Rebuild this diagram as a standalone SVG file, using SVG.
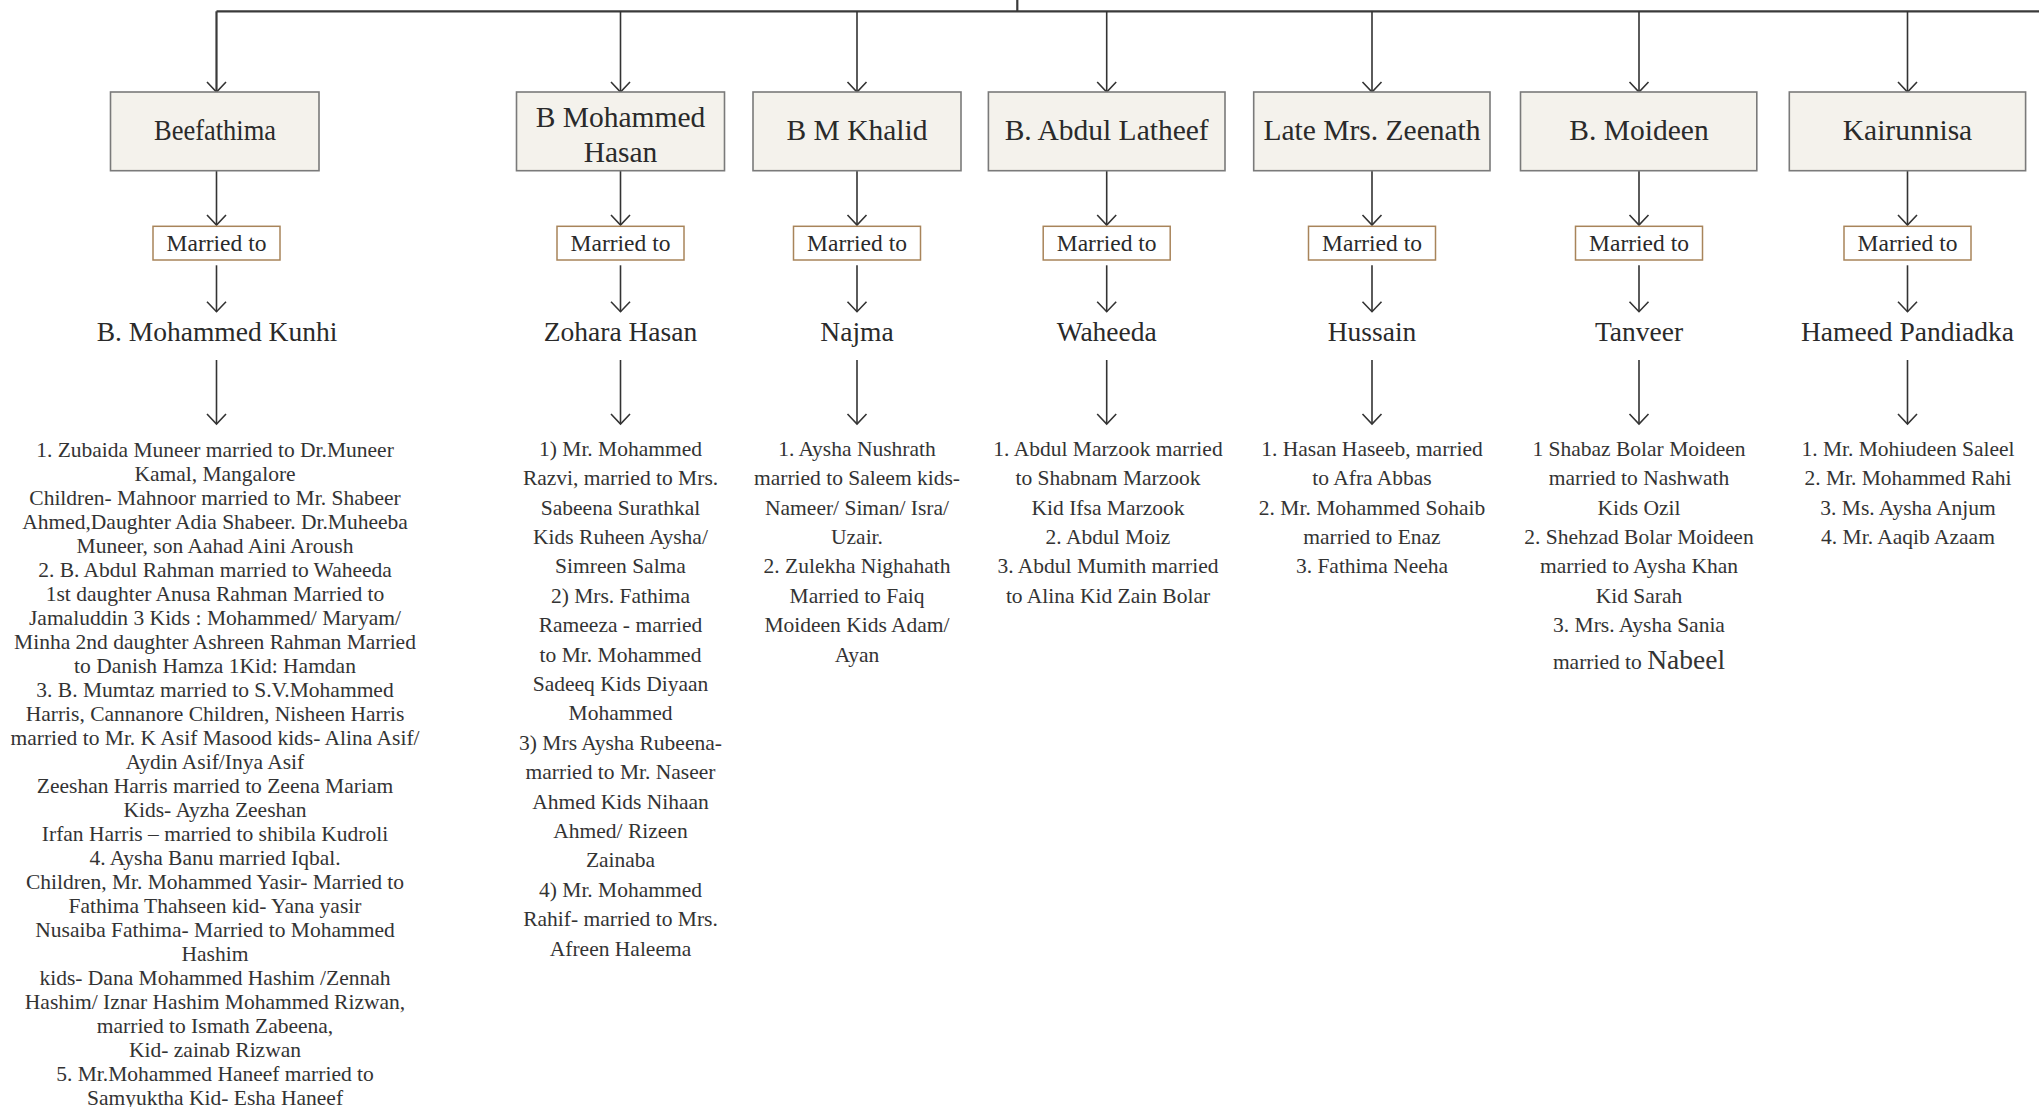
<svg xmlns="http://www.w3.org/2000/svg" width="2039" height="1107" viewBox="0 0 2039 1107">
<defs>
<style>
text{font-family:"Liberation Serif","Times New Roman",serif;fill:#2a2a2a;text-anchor:middle}
.box{fill:#f4f2ec;stroke:#7a7a7a;stroke-width:1.6}
.mbox{fill:#ffffff;stroke:#a8845a;stroke-width:1.5}
.t{font-size:29.5px}
.m{font-size:23.5px}
.n{font-size:27.5px}
.l{font-size:21.5px;fill:#333}
.c{fill:none;stroke:#333;stroke-width:1.6}
.main{fill:none;stroke:#3a3a3a;stroke-width:2.2}
</style>
<marker id="ah" markerUnits="userSpaceOnUse" markerWidth="12" markerHeight="22" viewBox="0 0 12 22" refX="10.5" refY="11" orient="auto" overflow="visible">
<path d="M0.5,1.5 L10.5,11 L0.5,20.5" fill="none" stroke="#333" stroke-width="1.6"/>
</marker>
</defs>
<rect width="2039" height="1107" fill="#ffffff"/>
<g id="connectors">
<path class="main" d="M216.5,11.3 H2039 M1017.3,0 V11.3"/>
<path class="main" d="M216.5,11.3 V92" marker-end="url(#ah)"/>
<path class="c" d="M620.5,11.3 V92" marker-end="url(#ah)"/>
<path class="c" d="M857,11.3 V92" marker-end="url(#ah)"/>
<path class="c" d="M1106.7,11.3 V92" marker-end="url(#ah)"/>
<path class="c" d="M1372,11.3 V92" marker-end="url(#ah)"/>
<path class="c" d="M1639,11.3 V92" marker-end="url(#ah)"/>
<path class="c" d="M1907.5,11.3 V92" marker-end="url(#ah)"/>
<path class="c" d="M216.5,170.7 V225" marker-end="url(#ah)"/>
<path class="c" d="M620.5,170.7 V225" marker-end="url(#ah)"/>
<path class="c" d="M857,170.7 V225" marker-end="url(#ah)"/>
<path class="c" d="M1106.7,170.7 V225" marker-end="url(#ah)"/>
<path class="c" d="M1372,170.7 V225" marker-end="url(#ah)"/>
<path class="c" d="M1639,170.7 V225" marker-end="url(#ah)"/>
<path class="c" d="M1907.5,170.7 V225" marker-end="url(#ah)"/>
<path class="c" d="M216.5,265.3 V311.7" marker-end="url(#ah)"/>
<path class="c" d="M620.5,265.3 V311.7" marker-end="url(#ah)"/>
<path class="c" d="M857,265.3 V311.7" marker-end="url(#ah)"/>
<path class="c" d="M1106.7,265.3 V311.7" marker-end="url(#ah)"/>
<path class="c" d="M1372,265.3 V311.7" marker-end="url(#ah)"/>
<path class="c" d="M1639,265.3 V311.7" marker-end="url(#ah)"/>
<path class="c" d="M1907.5,265.3 V311.7" marker-end="url(#ah)"/>
<path class="c" d="M216.5,360 V424" marker-end="url(#ah)"/>
<path class="c" d="M620.5,360 V424" marker-end="url(#ah)"/>
<path class="c" d="M857,360 V424" marker-end="url(#ah)"/>
<path class="c" d="M1106.7,360 V424" marker-end="url(#ah)"/>
<path class="c" d="M1372,360 V424" marker-end="url(#ah)"/>
<path class="c" d="M1639,360 V424" marker-end="url(#ah)"/>
<path class="c" d="M1907.5,360 V424" marker-end="url(#ah)"/>
</g>

<g id="node-beefathima">
<rect class="box" x="110.5" y="92" width="208.5" height="78.7"/>
<text class="t" x="215" y="140" textLength="122" lengthAdjust="spacingAndGlyphs">Beefathima</text>
</g>
<g id="node-mohammed-hasan">
<rect class="box" x="516.5" y="92" width="208" height="78.7"/>
<text class="t" x="620.5" y="126.7">B Mohammed</text>
<text class="t" x="620.5" y="161.7">Hasan</text>
</g>
<g id="node-khalid">
<rect class="box" x="753" y="92" width="208" height="78.7"/>
<text class="t" x="857" y="140">B M Khalid</text>
</g>
<g id="node-latheef">
<rect class="box" x="988.4" y="92" width="236.6" height="78.7"/>
<text class="t" x="1106.7" y="140">B. Abdul Latheef</text>
</g>
<g id="node-zeenath">
<rect class="box" x="1253.7" y="92" width="236.3" height="78.7"/>
<text class="t" x="1372" y="140">Late Mrs. Zeenath</text>
</g>
<g id="node-moideen">
<rect class="box" x="1520.5" y="92" width="236.3" height="78.7"/>
<text class="t" x="1639" y="140">B. Moideen</text>
</g>
<g id="node-kairunnisa">
<rect class="box" x="1789.3" y="92" width="236.3" height="78.7"/>
<text class="t" x="1907.5" y="140">Kairunnisa</text>
</g>

<g id="married-1"><rect class="mbox" x="153" y="226.3" width="127" height="33.7"/><text class="m" x="216.5" y="251">Married to</text></g>
<g id="married-2"><rect class="mbox" x="557" y="226.3" width="127" height="33.7"/><text class="m" x="620.5" y="251">Married to</text></g>
<g id="married-3"><rect class="mbox" x="793.5" y="226.3" width="127" height="33.7"/><text class="m" x="857" y="251">Married to</text></g>
<g id="married-4"><rect class="mbox" x="1043.2" y="226.3" width="127" height="33.7"/><text class="m" x="1106.7" y="251">Married to</text></g>
<g id="married-5"><rect class="mbox" x="1308.5" y="226.3" width="127" height="33.7"/><text class="m" x="1372" y="251">Married to</text></g>
<g id="married-6"><rect class="mbox" x="1575.5" y="226.3" width="127" height="33.7"/><text class="m" x="1639" y="251">Married to</text></g>
<g id="married-7"><rect class="mbox" x="1844" y="226.3" width="127" height="33.7"/><text class="m" x="1907.5" y="251">Married to</text></g>

<g id="spouse-1"><text class="n" x="217" y="340.7">B. Mohammed Kunhi</text></g>
<g id="spouse-2"><text class="n" x="620.5" y="340.7">Zohara Hasan</text></g>
<g id="spouse-3"><text class="n" x="857" y="340.7">Najma</text></g>
<g id="spouse-4"><text class="n" x="1106.7" y="340.7">Waheeda</text></g>
<g id="spouse-5"><text class="n" x="1372" y="340.7">Hussain</text></g>
<g id="spouse-6"><text class="n" x="1639" y="340.7">Tanveer</text></g>
<g id="spouse-7"><text class="n" x="1907.5" y="340.7">Hameed Pandiadka</text></g>

<g id="children-1">
<text class="l" x="215" y="456.7">1. Zubaida Muneer married to Dr.Muneer</text>
<text class="l" x="215" y="480.7">Kamal, Mangalore</text>
<text class="l" x="215" y="504.7">Children- Mahnoor married to Mr. Shabeer</text>
<text class="l" x="215" y="528.7">Ahmed,Daughter Adia Shabeer. Dr.Muheeba</text>
<text class="l" x="215" y="552.7">Muneer, son Aahad Aini Aroush</text>
<text class="l" x="215" y="576.7">2. B. Abdul Rahman married to Waheeda</text>
<text class="l" x="215" y="600.7">1st daughter Anusa Rahman Married to</text>
<text class="l" x="215" y="624.7">Jamaluddin 3 Kids : Mohammed/ Maryam/</text>
<text class="l" x="215" y="648.7">Minha 2nd daughter Ashreen Rahman Married</text>
<text class="l" x="215" y="672.7">to Danish Hamza 1Kid: Hamdan</text>
<text class="l" x="215" y="696.7">3. B. Mumtaz married to S.V.Mohammed</text>
<text class="l" x="215" y="720.7">Harris, Cannanore Children, Nisheen Harris</text>
<text class="l" x="215" y="744.7">married to Mr. K Asif Masood kids- Alina Asif/</text>
<text class="l" x="215" y="768.7">Aydin Asif/Inya Asif</text>
<text class="l" x="215" y="792.7">Zeeshan Harris married to Zeena Mariam</text>
<text class="l" x="215" y="816.7">Kids- Ayzha Zeeshan</text>
<text class="l" x="215" y="840.7">Irfan Harris – married to shibila Kudroli</text>
<text class="l" x="215" y="864.7">4. Aysha Banu married Iqbal.</text>
<text class="l" x="215" y="888.7">Children, Mr. Mohammed Yasir- Married to</text>
<text class="l" x="215" y="912.7">Fathima Thahseen kid- Yana yasir</text>
<text class="l" x="215" y="936.7">Nusaiba Fathima- Married to Mohammed</text>
<text class="l" x="215" y="960.7">Hashim</text>
<text class="l" x="215" y="984.7">kids- Dana Mohammed Hashim /Zennah</text>
<text class="l" x="215" y="1008.7">Hashim/ Iznar Hashim Mohammed Rizwan,</text>
<text class="l" x="215" y="1032.7">married to Ismath Zabeena,</text>
<text class="l" x="215" y="1056.7">Kid- zainab Rizwan</text>
<text class="l" x="215" y="1080.7">5. Mr.Mohammed Haneef married to</text>
<text class="l" x="215" y="1104.7">Samyuktha Kid- Esha Haneef</text>
</g>

<g id="children-2">
<text class="l" x="620.5" y="455.8">1) Mr. Mohammed</text>
<text class="l" x="620.5" y="485.2">Razvi, married to Mrs.</text>
<text class="l" x="620.5" y="514.6">Sabeena Surathkal</text>
<text class="l" x="620.5" y="544">Kids Ruheen Aysha/</text>
<text class="l" x="620.5" y="573.4">Simreen Salma</text>
<text class="l" x="620.5" y="602.8">2) Mrs. Fathima</text>
<text class="l" x="620.5" y="632.2">Rameeza - married</text>
<text class="l" x="620.5" y="661.6">to Mr. Mohammed</text>
<text class="l" x="620.5" y="691">Sadeeq Kids Diyaan</text>
<text class="l" x="620.5" y="720.4">Mohammed</text>
<text class="l" x="620.5" y="749.8">3) Mrs Aysha Rubeena-</text>
<text class="l" x="620.5" y="779.2">married to Mr. Naseer</text>
<text class="l" x="620.5" y="808.6">Ahmed Kids Nihaan</text>
<text class="l" x="620.5" y="838">Ahmed/ Rizeen</text>
<text class="l" x="620.5" y="867.4">Zainaba</text>
<text class="l" x="620.5" y="896.8">4) Mr. Mohammed</text>
<text class="l" x="620.5" y="926.2">Rahif- married to Mrs.</text>
<text class="l" x="620.5" y="955.6">Afreen Haleema</text>
</g>

<g id="children-3">
<text class="l" x="857" y="455.8">1. Aysha Nushrath</text>
<text class="l" x="857" y="485.2">married to Saleem kids-</text>
<text class="l" x="857" y="514.6">Nameer/ Siman/ Isra/</text>
<text class="l" x="857" y="544">Uzair.</text>
<text class="l" x="857" y="573.4">2. Zulekha Nighahath</text>
<text class="l" x="857" y="602.8">Married to Faiq</text>
<text class="l" x="857" y="632.2">Moideen Kids Adam/</text>
<text class="l" x="857" y="661.6">Ayan</text>
</g>

<g id="children-4">
<text class="l" x="1108" y="455.8">1. Abdul Marzook married</text>
<text class="l" x="1108" y="485.2">to Shabnam Marzook</text>
<text class="l" x="1108" y="514.6">Kid Ifsa Marzook</text>
<text class="l" x="1108" y="544">2. Abdul Moiz</text>
<text class="l" x="1108" y="573.4">3. Abdul Mumith married</text>
<text class="l" x="1108" y="602.8">to Alina Kid Zain Bolar</text>
</g>

<g id="children-5">
<text class="l" x="1372" y="455.8">1. Hasan Haseeb, married</text>
<text class="l" x="1372" y="485.2">to Afra Abbas</text>
<text class="l" x="1372" y="514.6">2. Mr. Mohammed Sohaib</text>
<text class="l" x="1372" y="544">married to Enaz</text>
<text class="l" x="1372" y="573.4">3. Fathima Neeha</text>
</g>

<g id="children-6">
<text class="l" x="1639" y="455.8">1 Shabaz Bolar Moideen</text>
<text class="l" x="1639" y="485.2">married to Nashwath</text>
<text class="l" x="1639" y="514.6">Kids Ozil</text>
<text class="l" x="1639" y="544">2. Shehzad Bolar Moideen</text>
<text class="l" x="1639" y="573.4">married to Aysha Khan</text>
<text class="l" x="1639" y="602.8">Kid Sarah</text>
<text class="l" x="1639" y="632.2">3. Mrs. Aysha Sania</text>
<text class="l" x="1639" y="669.3">married to <tspan font-size="27.5px">Nabeel</tspan></text>
</g>

<g id="children-7">
<text class="l" x="1908" y="455.8">1. Mr. Mohiudeen Saleel</text>
<text class="l" x="1908" y="485.2">2. Mr. Mohammed Rahi</text>
<text class="l" x="1908" y="514.6">3. Ms. Aysha Anjum</text>
<text class="l" x="1908" y="544">4. Mr. Aaqib Azaam</text>
</g>
</svg>
